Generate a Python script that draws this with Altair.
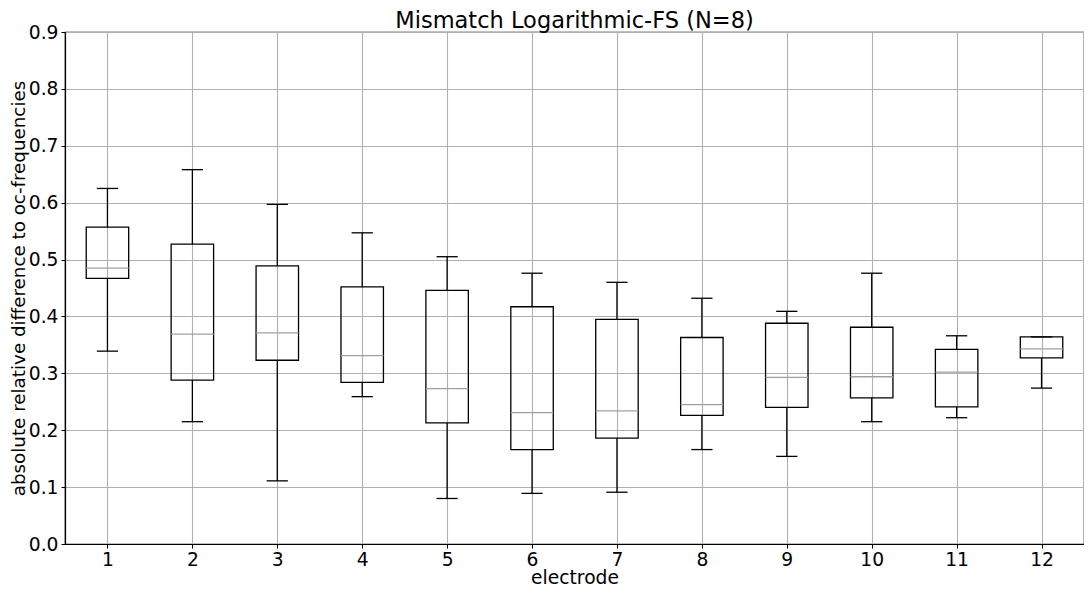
import altair as alt
import pandas as pd

electrode = list(range(1, 13))
whisker_low = [0.339, 0.215, 0.111, 0.259, 0.080, 0.089, 0.091, 0.166, 0.154, 0.215, 0.222, 0.274]
q1 = [0.467, 0.288, 0.323, 0.284, 0.213, 0.166, 0.186, 0.226, 0.240, 0.257, 0.241, 0.327]
median = [0.485, 0.369, 0.371, 0.331, 0.273, 0.231, 0.234, 0.245, 0.293, 0.294, 0.302, 0.343]
q3 = [0.557, 0.527, 0.489, 0.452, 0.446, 0.417, 0.395, 0.363, 0.388, 0.381, 0.342, 0.364]
whisker_high = [0.625, 0.658, 0.597, 0.547, 0.505, 0.476, 0.460, 0.432, 0.409, 0.476, 0.366, 0.364]

y_ticks = [0.0, 0.1, 0.2, 0.3, 0.4, 0.5, 0.6, 0.7, 0.8, 0.9]

df = pd.DataFrame({
    "electrode": electrode,
    "lo": whisker_low,
    "q1": q1,
    "med": median,
    "q3": q3,
    "hi": whisker_high,
})

FONT = "DejaVu Sans"
x_scale = alt.Scale(domain=[0.5, 12.5], nice=False, zero=False)
y_scale = alt.Scale(domain=[0, 0.9], nice=False, zero=False)
x_axis = alt.Axis(values=electrode, format="d", title="electrode",
                  labelPadding=2, titlePadding=0)
y_axis = alt.Axis(values=y_ticks, format=".1f", labelPadding=3,
                  title="absolute relative difference to oc-frequencies", titlePadding=0,
                  titleFontSize=18.3)


def X(field):
    return alt.X(field, type="quantitative", scale=x_scale, axis=x_axis)


def Y(field):
    return alt.Y(field, type="quantitative", scale=y_scale, axis=y_axis)


base = alt.Chart(df).transform_calculate(
    xl="datum.electrode - 0.25",
    xr="datum.electrode + 0.25",
    cl="datum.electrode - 0.125",
    cr="datum.electrode + 0.125",
)

boxes = base.mark_rect(fillOpacity=0, stroke="black", strokeWidth=1.3).encode(
    x=X("xl"), x2="xr", y=Y("q1"), y2="q3"
)
whisk_low = base.mark_rule(color="black", strokeWidth=1.3).encode(
    x=X("electrode"), y=Y("lo"), y2="q1"
)
whisk_high = base.mark_rule(color="black", strokeWidth=1.3).encode(
    x=X("electrode"), y=Y("q3"), y2="hi"
)
cap_low = base.mark_rule(color="black", strokeWidth=1.3).encode(
    x=X("cl"), x2="cr", y=Y("lo")
)
cap_high = base.mark_rule(color="black", strokeWidth=1.3).encode(
    x=X("cl"), x2="cr", y=Y("hi")
)
medians = base.mark_rule(color="#a0a0a0", strokeWidth=1.3).encode(
    x=X("xl"), x2="xr", y=Y("med")
)

chart = alt.layer(boxes, whisk_low, whisk_high, cap_low, cap_high, medians).properties(
    width=1019,
    height=512,
    autosize=alt.AutoSizeParams(type="none"),
    padding={"left": 57, "top": 24, "right": 0, "bottom": 43},
    title=alt.Title("Mismatch Logarithmic-FS (N=8)", font=FONT, fontSize=22.5,
                    fontWeight="normal", color="black", offset=-9),
).configure_view(
    stroke="black", strokeWidth=1.2
).configure_axis(
    labelFont=FONT, titleFont=FONT, labelFontSize=18.7, titleFontSize=18.7,
    labelColor="black", titleColor="black", titleFontWeight="normal",
    domainColor="black", domainWidth=1.2, tickColor="black", tickSize=4,
    grid=True, gridColor="#b0b0b0", gridWidth=1.1,
)

chart.save("out.html", embed_options={"renderer": "svg", "actions": False})
